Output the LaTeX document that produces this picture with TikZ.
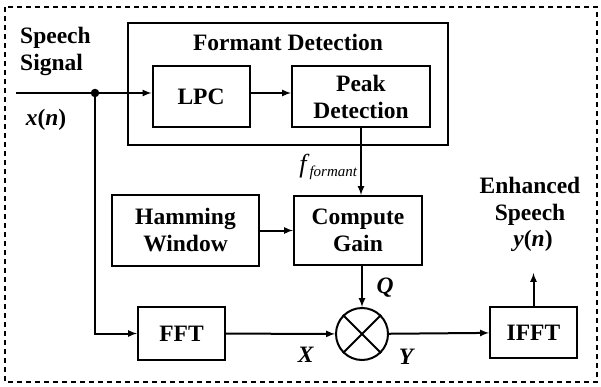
\documentclass[tikz,border=0pt]{standalone}
\usepackage{fontspec}
\setmainfont{Liberation Serif}
\usepackage{tikz}
\newcommand{\blk}[1]{\fontsize{23.5}{27}\selectfont\bfseries #1}
\begin{document}
\begin{tikzpicture}[x=1pt,y=-1pt,
    blockbox/.style={draw, line width=2pt, align=center, inner sep=0pt, font=\blk{}},
    lab/.style={inner sep=0pt, align=center, font=\blk{}},
    wire/.style={line width=2pt},
    arr/.style={line width=2pt, -latex}]
  \useasboundingbox (0,0) rectangle (601,387);
  % outer frame
  \draw[line width=1.8pt, dash pattern=on 5pt off 4pt] (5,7) rectangle (597,382);
  % formant detection
  \node (formant) at (288,84) [draw, line width=2pt, minimum width=320pt, minimum height=122pt] {};
  \node (ftitle) at (288,42) [lab] {Formant Detection};
  \node (lpc) at (201,96.5) [blockbox, minimum width=97pt, minimum height=61pt] {LPC};
  \node (peak) at (361,96.5) [blockbox, minimum width=138pt, minimum height=61pt] {Peak\\Detection};
  % gain path
  \node (hamming) at (185.5,230.5) [blockbox, minimum width=147pt, minimum height=71pt] {Hamming\\Window};
  \node (gain) at (358,230.5) [blockbox, minimum width=128pt, minimum height=69pt] {Compute\\Gain};
  % signal path
  \node (fft) at (181.5,333.5) [blockbox, minimum width=87pt, minimum height=53pt] {FFT};
  \node (mult) at (362,334) [draw, circle, line width=2pt, minimum size=52pt, inner sep=0pt] {};
  \node (ifft) at (533.5,332.5) [blockbox, minimum width=87pt, minimum height=51pt] {IFFT};
  \node (split) at (95,93) [fill, circle, inner sep=3pt] {};
  \coordinate (in) at (16,93);
  \coordinate (out) at (533.5,273);
  \draw[line width=2pt] (mult.north west) -- (mult.south east) (mult.north east) -- (mult.south west);
  \draw[wire] (in) -- (split);
  \draw[arr] (split) -- (lpc.west |- split);
  \draw[arr] (lpc.east |- split) -- (peak.west |- split);
  \draw[arr] (peak.south) -- (peak.south |- gain.north);
  \draw[arr] (hamming) -- (gain);
  \draw[arr] (gain.south -| mult) -- (mult);
  \draw[arr] (split) |- (fft);
  \draw[arr] (fft) -- (mult);
  \draw[arr] (mult) -- (ifft);
  \draw[arr] (ifft) -- (out);
  % labels
  \node (speech) at (20,51) [lab, anchor=west, align=left] {Speech\\Signal};
  \node (xn) at (46,120) [lab] {\textit{x}(\textit{n})};
  \node (ff) at (358,167) [anchor=east, inner sep=0pt, font=\fontsize{26}{28}\selectfont] {\textit{f}\textsubscript{\fontsize{15}{16}\selectfont\textit{formant}}};
  \node (q) at (385,288) [lab] {\textit{Q}};
  \node (xl) at (306,355) [lab] {\textit{X}};
  \node (yl) at (407,357) [lab] {\textit{Y}};
  \node (enh) at (530,201) [lab] {Enhanced\\Speech};
  \node (yn) at (533,241) [lab] {\textit{y}(\textit{n})};
\end{tikzpicture}
\end{document}
